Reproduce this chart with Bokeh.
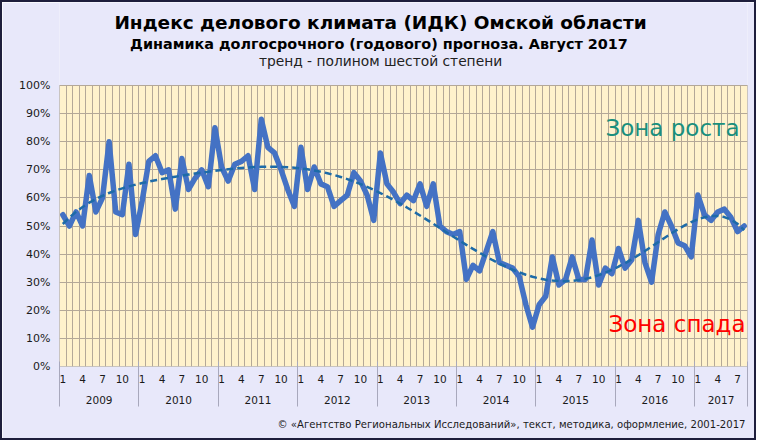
import numpy as np
from bokeh.plotting import figure
from bokeh.models import Range1d, FixedTicker, LinearAxis, Label, PrintfTickFormatter, Title
from bokeh.embed import file_html
from bokeh.resources import INLINE

# ---------------- data ----------------
years = ["2009", "2010", "2011", "2012", "2013", "2014", "2015", "2016", "2017"]
month_labels = ["1", "4", "7", "10"]

idk_2009 = [54, 50, 55, 50, 68, 55, 60, 80, 55, 54, 72, 47]
idk_2010 = [59, 73, 75, 69, 70, 56, 74, 63, 67, 70, 64, 85]
idk_2011 = [71, 66, 72, 73, 75, 63, 88, 78, 76, 70, 63, 57]
idk_2012 = [78, 63, 71, 65, 64, 57, 59, 61, 69, 66, 61, 52]
idk_2013 = [76, 65, 62, 58, 61, 59, 65, 57, 65, 50, 48, 47]
idk_2014 = [48, 31, 36, 34, 41, 48, 37, 36, 35, 32, 22, 14]
idk_2015 = [22, 25, 39, 29, 31, 39, 31, 31, 45, 29, 35, 33]
idk_2016 = [42, 35, 38, 52, 37, 30, 47, 55, 50, 44, 43, 39]
idk_2017 = [61, 54, 52, 55, 56, 53, 48, 50]

y_ticks = list(range(0, 101, 10))

title_main = "Индекс делового климата (ИДК) Омской области"
title_sub = "Динамика  долгосрочного (годового) прогноза. Август 2017"
title_trend = "тренд - полином шестой степени"
zone_up = "Зона роста"
zone_down = "Зона спада"
copyright_text = "© «Агентство Региональных Исследований», текст, методика, оформление, 2001-2017"

# ---------------- derived ----------------
per_year = [idk_2009, idk_2010, idk_2011, idk_2012, idk_2013,
            idk_2014, idk_2015, idk_2016, idk_2017]
values = [v for yr in per_year for v in yr]
n = len(values)
idx = np.arange(n)

# sixth-degree polynomial trend, as in the original chart
poly = np.polynomial.Polynomial.fit(idx, values, 6)
trend = poly(idx)

bounds = [-0.5]
for yr in per_year:
    bounds.append(bounds[-1] + len(yr))
year_centers = [(bounds[k] + bounds[k + 1]) / 2 for k in range(len(years))]

month_ticks = [i for i in range(n) if i % 3 == 0]
month_over = {i: month_labels[(i % 12) // 3] for i in month_ticks}
year_over = {c: y for c, y in zip(year_centers, years)}

BG = "#E8E8FA"
PLOT_BG = "#FFF2CC"
GRID = "#B4A898"
TXT = "#1A1A1A"
SEP = "#A8A8BC"

# layout: frame reaches the top of the canvas so the titles can sit inside it
W, H = 756, 440
FRAME_BOTTOM = 364          # canvas px
PLOT_TOP = 83               # canvas px of the 100% line
y_top = y_ticks[-1] * FRAME_BOTTOM / (FRAME_BOTTOM - PLOT_TOP)

p = figure(width=W, height=H, output_backend="svg", toolbar_location=None,
           x_range=Range1d(bounds[0], bounds[-1]), y_range=Range1d(0, y_top),
           min_border_left=57, min_border_right=11, min_border_top=0,
           min_border_bottom=H - FRAME_BOTTOM)
p.styles = {"border": "2px solid #1E1E3C"}

p.background_fill_color = BG
p.border_fill_color = BG
p.outline_line_color = None

# plot area (0..100 %)
p.quad(left=bounds[0], right=bounds[-1], bottom=y_ticks[0], top=y_ticks[-1],
       fill_color=PLOT_BG, line_color="#A09A94", line_width=1, level="image")

# grids
p.xgrid.ticker = FixedTicker(ticks=[i - 0.5 for i in range(n + 1)])
p.xgrid.grid_line_color = GRID
p.xgrid.cross_bounds = (y_ticks[0], y_ticks[-1])
p.ygrid.ticker = FixedTicker(ticks=y_ticks)
p.ygrid.grid_line_color = GRID

# y axis
p.yaxis.ticker = FixedTicker(ticks=y_ticks)
p.yaxis.formatter = PrintfTickFormatter(format="%d%%")
p.yaxis.axis_line_color = None
p.yaxis.major_tick_line_color = None
p.yaxis.major_tick_out = 0
p.yaxis.minor_tick_line_color = None
p.yaxis.major_label_standoff = 9
p.yaxis.major_label_text_font = "DejaVu Sans"
p.yaxis.major_label_text_font_size = "11px"
p.yaxis.major_label_text_color = TXT

# month axis
xa = p.xaxis[0]
xa.ticker = FixedTicker(ticks=month_ticks)
xa.major_label_overrides = month_over
xa.axis_line_color = None
xa.major_tick_line_color = None
xa.major_tick_out = 0
xa.minor_tick_line_color = None
xa.minor_tick_out = 0
xa.major_label_standoff = 8
xa.major_label_text_font = "DejaVu Sans"
xa.major_label_text_font_size = "10.5px"
xa.major_label_text_color = TXT

# year axis
ya = LinearAxis(ticker=FixedTicker(ticks=year_centers))
ya.major_label_overrides = year_over
ya.axis_line_color = None
ya.major_tick_line_color = None
ya.major_tick_in = 0
ya.major_tick_out = 0
ya.minor_tick_line_color = None
ya.minor_tick_out = 0
ya.major_label_standoff = 10
ya.major_label_text_font = "DejaVu Sans"
ya.major_label_text_font_size = "10.5px"
ya.major_label_text_color = TXT
p.add_layout(ya, "below")

# separator axis: year boundaries drawn as inward minor ticks
sa = LinearAxis(ticker=FixedTicker(ticks=[], minor_ticks=bounds))
sa.axis_line_color = None
sa.major_tick_line_color = None
sa.major_tick_in = 0
sa.major_tick_out = 0
sa.minor_tick_line_color = SEP
sa.minor_tick_in = 45
sa.minor_tick_out = 0
sa.major_label_text_font_size = "0px"
sa.major_label_standoff = 0
p.add_layout(sa, "below")

# series
p.line(idx, values, line_width=5.5, color="#4472C4", line_join="round", line_cap="round")
p.line(idx, trend, line_width=2.5, color="#1D6BA8", line_dash="7 4")

# zone labels
p.add_layout(Label(x=102.3, y=85, text=zone_up, text_align="right", text_baseline="middle",
                   text_font="DejaVu Sans", text_font_size="23px", text_color="#1A8F7D"))
p.add_layout(Label(x=103.2, y=15, text=zone_down, text_align="right", text_baseline="middle",
                   text_font="DejaVu Sans", text_font_size="23px", text_color="#FF0000"))

# titles (screen units from the frame's bottom-left corner)
p.add_layout(Label(x=321, y=344, x_units="screen", y_units="screen", text=title_main,
                   text_align="center", text_baseline="middle", text_font="DejaVu Sans",
                   text_font_style="bold", text_font_size="18.5px", text_color="#000000"))
p.add_layout(Label(x=322, y=323, x_units="screen", y_units="screen", text=title_sub,
                   text_align="center", text_baseline="middle", text_font="DejaVu Sans",
                   text_font_style="bold", text_font_size="14.4px", text_color="#000000"))
p.add_layout(Label(x=321, y=306, x_units="screen", y_units="screen", text=title_trend,
                   text_align="center", text_baseline="middle", text_font="DejaVu Sans",
                   text_font_size="13.8px", text_color="#222222"))

p.add_layout(Title(text=copyright_text, align="right", offset=2, standoff=20,
                   text_font="DejaVu Sans", text_font_style="normal", text_font_size="10.1px",
                   text_color="#1A1A1A"), "below")

open("out.html", "w").write(file_html(p, INLINE))
